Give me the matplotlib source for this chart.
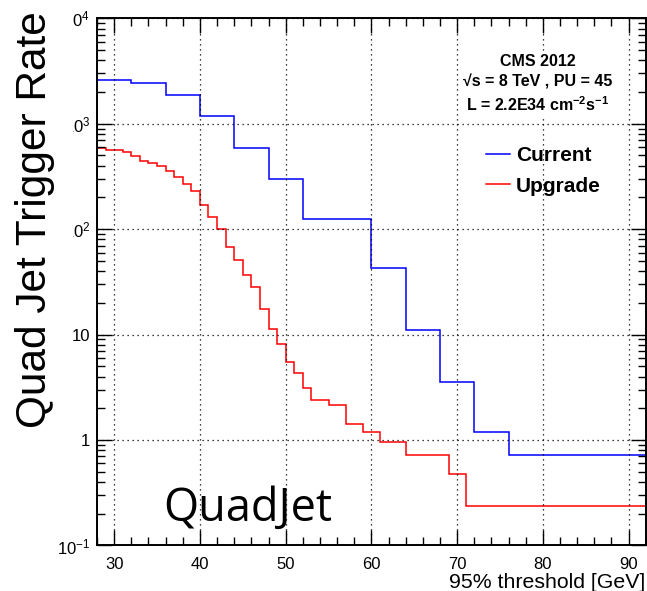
import matplotlib
matplotlib.use("Agg")
import matplotlib.pyplot as plt
from matplotlib.patches import Rectangle
from matplotlib.ticker import FixedLocator, MultipleLocator, LogLocator, NullFormatter

plt.rcParams["font.family"] = ["Liberation Sans", "DejaVu Sans"]
plt.rcParams["mathtext.default"] = "regular"

# bin edges and rates
current_edges = [28, 32, 36, 40, 44, 48, 52, 60, 64, 68, 72, 76, 92]
current_rate = [2600, 2420, 1890, 1190, 594, 298, 124, 43.3, 11.0, 3.57, 1.19, 0.715]

upgrade_edges = [28, 29, 31, 32, 33, 34, 35, 36, 37, 38, 39, 40, 41, 42, 43, 44,
                 45, 46, 47, 48, 49, 50, 51, 52, 53, 55, 57, 59, 61, 64, 69, 71, 92]
upgrade_rate = [594, 565, 544, 499, 447, 422, 401, 357, 313, 267, 232, 170, 130,
                100, 68.4, 51.2, 36.6, 28.6, 17.5, 11.3, 8.1, 5.49, 4.28, 3.11,
                2.39, 2.15, 1.43, 1.19, 0.95, 0.715, 0.48, 0.238]

y_ticks = [0.1, 1, 10, 100, 1000, 10000]
y_tick_labels = ["$10^{-1}$", "1", "10", "$10^{2}$", "$10^{3}$", "$10^{4}$"]

fig = plt.figure(figsize=(6.47, 5.91), dpi=100)
ax = fig.add_axes([0.150, 0.077, 0.848, 0.892])

ax.stairs(current_rate, current_edges, color="#0000ff", lw=1.1, label="Current")
ax.stairs(upgrade_rate, upgrade_edges, color="#ff0000", lw=1.1, label="Upgrade")

ax.set_yscale("log")
ax.set_xlim(28, 92)
ax.set_ylim(0.1, 10000)

ax.xaxis.set_major_locator(MultipleLocator(10))
ax.xaxis.set_minor_locator(MultipleLocator(2))
ax.yaxis.set_major_locator(FixedLocator(y_ticks))
ax.set_yticklabels(y_tick_labels)
ax.yaxis.set_minor_locator(LogLocator(base=10, subs=range(2, 10)))
ax.yaxis.set_minor_formatter(NullFormatter())

ax.tick_params(which="both", direction="in", top=True, right=True, labelsize=12)
ax.tick_params(which="major", length=11, width=1)
ax.tick_params(which="minor", length=6, width=1)
ax.tick_params(axis="x", pad=8)
ax.tick_params(axis="y", pad=5)
for s in ax.spines.values():
    s.set_linewidth(1.4)

ax.grid(True, which="major", color="black", linestyle=(0, (1, 3)), lw=0.9)

ax.set_xlabel("95% threshold [GeV]", fontsize=15.3, loc="right", labelpad=1)

# rotated axis title drawn on a white box, as in the source picture
fig.patches.append(Rectangle((0.0, 0.58), 0.1125, 0.42, transform=fig.transFigure,
                             facecolor="white", edgecolor="none", zorder=2))
fig.text(0.054, 0.628, "Quad Jet Trigger Rate", rotation=90, fontsize=30.5,
         ha="center", va="center", zorder=3)

ax.text(0.803, 0.875,
        "CMS 2012\n\u221as = 8 TeV , PU = 45\nL = 2.2E34 cm$^{-2}$s$^{-1}$",
        transform=ax.transAxes, ha="center", va="center", multialignment="center",
        linespacing=1.4, fontsize=11.5, fontweight="bold", zorder=5,
        bbox=dict(facecolor="white", edgecolor="none", pad=1))

leg = ax.legend(loc="upper left", bbox_to_anchor=(0.69, 0.777), frameon=False,
                borderpad=0, handlelength=1.15, handletextpad=0.3, labelspacing=0.55,
                prop={"weight": "bold", "size": 15})

ax.text(0.12, 0.047, "QuadJet", transform=ax.transAxes, fontsize=32.5,
        family="Open Sans")

fig.savefig("out.png", dpi=100)
